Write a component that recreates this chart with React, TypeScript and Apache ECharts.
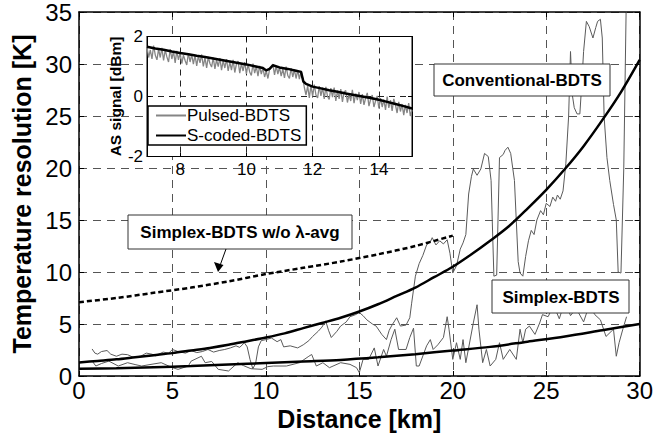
import React, { useEffect, useRef } from "react";
import * as echarts from "echarts";

// ---------- main chart data (Distance km, Temperature resolution K) ----------
const conventionalBDTS: [number, number][] = [
  [0, 1.3], [1, 1.45], [2, 1.6], [3, 1.8], [4, 2.0], [5, 2.2], [6, 2.45], [7, 2.7], [8, 3.0], [9, 3.35],
  [10, 3.7], [11, 4.1], [12, 4.6], [13, 5.1], [14, 5.6], [15, 6.2], [16, 6.9], [17, 7.7], [18, 8.5], [19, 9.5],
  [20, 10.5], [21, 11.7], [22, 13.0], [23, 14.4], [24, 16.1], [25, 17.9], [26, 19.9], [27, 22.1], [28, 24.6],
  [29, 27.3], [30, 30.4],
];

const simplexBDTS: [number, number][] = [
  [0, 0.7], [2, 0.75], [4, 0.85], [6, 0.95], [8, 1.1], [10, 1.25], [12, 1.4], [14, 1.55], [16, 1.8],
  [18, 2.1], [20, 2.45], [22, 2.8], [24, 3.3], [26, 3.8], [28, 4.4], [30, 5.0],
];

const simplexNoAvg: [number, number][] = [
  [0, 7.1], [2, 7.5], [4, 8.0], [6, 8.5], [8, 9.1], [10, 9.8], [12, 10.4], [14, 11.0], [16, 11.7],
  [18, 12.5], [20, 13.5],
];

const measuredConventional: [number, number][] = [
  [0.7, 2.6], [0.85, 2.2], [1.0, 2.1], [1.2, 2.35], [1.5, 2.45], [1.7, 2.1], [2.0, 1.9], [2.3, 2.1], [2.6, 2.05],
  [2.9, 1.8], [3.3, 1.9], [3.6, 2.2], [3.9, 2.1], [4.1, 1.95], [4.5, 2.3], [4.8, 2.2], [5.0, 2.55], [5.3, 2.35],
  [5.7, 2.2], [6.0, 2.45], [6.3, 2.25], [6.6, 2.35], [6.9, 2.55], [7.2, 2.3], [7.5, 2.45], [7.8, 2.55], [8.1, 2.7],
  [8.4, 2.9], [8.6, 2.75], [8.85, 3.2], [9.0, 2.8], [9.15, 1.6], [9.3, 0.7], [9.45, 1.2], [9.6, 2.8], [9.75, 3.4],
  [10.0, 3.5], [10.3, 3.65], [10.6, 3.3], [10.8, 3.5], [10.95, 2.8], [11.3, 2.9], [11.7, 2.7], [12.0, 3.0],
  [12.3, 3.4], [12.5, 3.8], [12.8, 4.3], [13.0, 4.7], [13.2, 5.3], [13.35, 4.4], [13.5, 3.7], [13.8, 4.3],
  [14.0, 4.8], [14.3, 5.2], [14.5, 5.7], [14.8, 5.9], [15.0, 6.1], [15.2, 5.8], [15.4, 5.4], [15.7, 5.0],
  [15.9, 4.8], [16.2, 4.0], [16.45, 3.5], [16.6, 4.4], [16.75, 4.9], [17.0, 5.6], [17.2, 4.8], [17.5, 4.9],
  [17.7, 5.6], [17.8, 7.0], [18.0, 9.6], [18.2, 10.8], [18.4, 11.6], [18.6, 12.6], [18.8, 12.9], [18.9, 13.3],
  [19.1, 12.6], [19.3, 13.0], [19.5, 12.7], [19.7, 13.1], [19.85, 11.8], [20.0, 9.9], [20.2, 10.6], [20.4, 12.2],
  [20.55, 12.8], [20.7, 13.6], [20.85, 17.5], [21.0, 19.2], [21.1, 19.9], [21.3, 19.3], [21.5, 19.9], [21.7, 21.4],
  [21.9, 21.1], [22.05, 18.8], [22.2, 9.6], [22.35, 9.7], [22.5, 21.0], [22.7, 21.3], [22.8, 21.7], [22.95, 22.0],
  [23.1, 21.4], [23.3, 18.8], [23.5, 11.0], [23.6, 9.9], [23.75, 9.6], [23.9, 11.5], [24.05, 13.0], [24.2, 14.0],
  [24.35, 13.6], [24.5, 15.0], [24.7, 15.9], [24.85, 15.5], [25.0, 16.6], [25.2, 16.3], [25.35, 17.2], [25.5, 16.8],
  [25.6, 17.4], [25.75, 17.0], [25.9, 17.8], [26.05, 20.4], [26.2, 25.0], [26.3, 31.2], [26.4, 27.0], [26.5, 25.8],
  [26.65, 25.2], [26.8, 25.2], [26.9, 28.0], [27.0, 31.2], [27.15, 34.1], [27.3, 33.6], [27.5, 32.5], [27.65, 33.5],
  [27.75, 34.1], [27.9, 34.3], [28.0, 32.5], [28.1, 24.9], [28.25, 21.0], [28.4, 18.8], [28.6, 16.5], [28.75, 15.0],
  [28.85, 10.0], [29.0, 9.9], [29.15, 20.0], [29.3, 38.0],
];

const measuredSimplex: [number, number][] = [
  [0.7, 1.45], [0.9, 0.96], [1.2, 1.2], [1.6, 1.43], [2.1, 0.96], [2.6, 1.28], [3.0, 1.1], [3.35, 0.96], [3.8, 1.1],
  [4.4, 1.28], [5.0, 0.8], [5.3, 0.64], [5.85, 0.96], [6.0, 1.43], [6.55, 1.9], [6.75, 1.28], [7.1, 1.4], [7.45, 0.64],
  [8.0, 0.48], [8.5, 1.28], [8.8, 1.0], [9.2, 0.7], [9.8, 0.64], [10.1, 0.9], [10.4, 0.96], [11.1, 0.96], [11.8, 1.28],
  [12.3, 1.9], [12.45, 2.07], [12.7, 0.96], [13.05, 1.28], [13.4, 0.8], [14.0, 1.28], [14.5, 1.12], [14.85, 0.8],
  [15.0, 0.32], [15.2, 1.6], [15.5, 1.6], [15.8, 2.7], [16.0, 0.96], [16.3, 2.55], [16.45, 1.9], [16.7, 3.5],
  [16.9, 4.5], [17.1, 2.55], [17.5, 2.55], [17.7, 3.7], [17.9, 4.6], [18.05, 0.96], [18.2, 0.96], [18.6, 2.9],
  [18.8, 3.5], [18.95, 2.55], [19.2, 3.0], [19.5, 3.7], [19.7, 5.7], [19.8, 4.5], [20.0, 1.6], [20.2, 3.2],
  [20.4, 1.6], [20.55, 3.5], [20.7, 1.28], [21.1, 5.1], [21.3, 6.85], [21.4, 4.5], [21.6, 1.28], [21.8, 2.55],
  [22.0, 0.96], [22.3, 1.6], [22.5, 3.2], [22.7, 1.6], [23.05, 2.55], [23.4, 1.6], [23.6, 4.5], [23.75, 3.2],
  [23.9, 4.5], [24.1, 4.8], [24.4, 4.0], [24.65, 5.1], [24.8, 5.9], [25.1, 5.7], [25.4, 6.8], [25.7, 5.5],
  [26.0, 7.2], [26.3, 5.8], [26.6, 6.5], [27.0, 5.2], [27.3, 6.8], [27.6, 5.9], [27.9, 5.4], [28.2, 3.8],
  [28.6, 4.5], [28.75, 1.9], [28.9, 3.2], [29.1, 4.5], [29.3, 5.7],
];

// ---------- inset data (Distance km, AS signal dBm) ----------
const pulsedKm: number[] = [
  7.0, 7.05, 7.1, 7.15, 7.2, 7.25, 7.3, 7.35, 7.4, 7.45, 7.5, 7.55, 7.6, 7.65, 7.7, 7.75, 7.8, 7.85, 7.9, 7.95,
  8.0, 8.05, 8.1, 8.15, 8.2, 8.25, 8.3, 8.35, 8.4, 8.45, 8.5, 8.55, 8.6, 8.65, 8.7, 8.75, 8.8, 8.85, 8.9, 8.95,
  9.0, 9.05, 9.1, 9.15, 9.2, 9.25, 9.3, 9.35, 9.4, 9.45, 9.5, 9.55, 9.6, 9.65, 9.7, 9.75, 9.8, 9.85, 9.9, 9.95,
  10.0, 10.05, 10.1, 10.15, 10.2, 10.25, 10.3, 10.35, 10.4, 10.45, 10.5, 10.55, 10.6, 10.65, 10.7, 10.75, 10.8, 10.85, 10.9, 10.95,
  11.0, 11.05, 11.1, 11.15, 11.2, 11.25, 11.3, 11.35, 11.4, 11.45, 11.5, 11.55, 11.6, 11.65, 11.7, 11.75, 11.8, 11.85, 11.9, 11.95,
  12.0, 12.05, 12.1, 12.15, 12.2, 12.25, 12.3, 12.35, 12.4, 12.45, 12.5, 12.55, 12.6, 12.65, 12.7, 12.75, 12.8, 12.85, 12.9, 12.95,
  13.0, 13.05, 13.1, 13.15, 13.2, 13.25, 13.3, 13.35, 13.4, 13.45, 13.5, 13.55, 13.6, 13.65, 13.7, 13.75, 13.8, 13.85, 13.9, 13.95,
  14.0, 14.05, 14.1, 14.15, 14.2, 14.25, 14.3, 14.35, 14.4, 14.45, 14.5, 14.55, 14.6, 14.65, 14.7, 14.75, 14.8, 14.85, 14.9, 14.95,
  15.0,
];
const pulsedDBm: number[] = [
  1.65, 1.30, 1.55, 1.25, 1.70, 1.38, 1.22, 1.58, 1.30, 1.62,
  1.20, 1.55, 1.32, 1.15, 1.58, 1.25, 1.50, 1.12, 1.52, 1.22,
  1.45, 1.10, 1.38, 1.20, 1.05, 1.45, 1.15, 1.40, 1.08, 1.38,
  1.02, 1.35, 1.12, 1.40, 1.00, 1.30, 0.95, 1.32, 1.10, 0.98,
  1.30, 0.92, 1.22, 1.00, 1.28, 0.88, 1.20, 0.95, 1.25, 0.85,
  1.15, 0.88, 1.22, 0.80, 1.08, 1.18, 0.78, 1.10, 0.85, 1.15,
  0.75, 1.08, 0.82, 0.70, 1.10, 0.78, 1.00, 0.68, 1.02, 0.75,
  0.95, 0.65, 0.85, 0.60, 0.90, 0.98, 1.08, 0.72, 1.02, 0.75,
  0.98, 0.68, 0.92, 0.62, 1.00, 0.70, 0.60, 0.95, 0.65, 0.90,
  0.60, 0.88, 0.58, 0.85, 0.62, 0.30, 0.05, 0.35, -0.05, 0.38,
  0.00, 0.40, 0.05, -0.05, 0.35, 0.02, 0.30, -0.08, 0.32, 0.00,
  -0.10, 0.28, -0.02, 0.30, -0.15, 0.20, -0.08, 0.25, -0.18, 0.15,
  0.20, -0.20, 0.08, -0.15, 0.22, -0.22, 0.10, -0.12, 0.15, -0.25,
  0.08, -0.28, -0.05, 0.12, -0.32, -0.10, 0.05, -0.35, -0.15, 0.02,
  -0.40, -0.05, -0.35, -0.10, -0.45, 0.00, -0.38, -0.12, -0.48, -0.08,
  -0.28, -0.55, -0.18, -0.50, -0.25, -0.62, -0.28, -0.55, -0.22, -0.65,
  -0.45,
];

const sCodedBDTS: [number, number][] = [
  [7.0, 1.66], [7.25, 1.6], [7.5, 1.56], [7.75, 1.5], [8.0, 1.45], [8.25, 1.41], [8.5, 1.36], [8.75, 1.32],
  [9.0, 1.27], [9.25, 1.22], [9.5, 1.17], [9.75, 1.12], [10.0, 1.07], [10.25, 1.01], [10.5, 0.95], [10.6, 0.87],
  [10.7, 0.92], [10.8, 1.04], [11.0, 0.97], [11.25, 0.92], [11.5, 0.86], [11.65, 0.82], [11.72, 0.5], [11.8, 0.42],
  [12.0, 0.33], [12.25, 0.27], [12.5, 0.21], [12.75, 0.16], [13.0, 0.1], [13.25, 0.05], [13.5, 0.0], [13.75, -0.05],
  [14.0, -0.11], [14.25, -0.18], [14.5, -0.25], [14.75, -0.32], [15.0, -0.4],
];

const FONT = "'Liberation Sans', Arial, Helvetica, sans-serif";

export default function App() {
  const ref = useRef<HTMLDivElement>(null);

  useEffect(() => {
    document.body.style.margin = "0";
    if (!ref.current) return;
    const chart = echarts.init(ref.current, undefined, { renderer: "svg" });

    const mainDash = { type: [8, 6] as number[], color: "#555", width: 1 };
    const insetDash = { type: [6, 5] as number[], color: "#222", width: 1 };
    const pulsed = pulsedKm.map((k, i) => [k, pulsedDBm[i]]);

    chart.setOption({
      animation: false,
      backgroundColor: "#fff",
      grid: [
        { left: 79, right: 16, top: 12, bottom: 63, show: false },
        { left: 147, top: 36.5, width: 265, height: 120, show: true, backgroundColor: "#fff", borderColor: "#000", borderWidth: 1, z: 5 },
      ],
      xAxis: [
        {
          gridIndex: 0, type: "value", min: 0, max: 30, interval: 5,
          axisLine: { show: true, lineStyle: { color: "#000", width: 1.5 } },
          axisTick: { show: true, inside: true, length: 5, lineStyle: { color: "#000" } },
          axisLabel: { color: "#000", fontSize: 24, fontFamily: FONT, margin: 2 },
          splitLine: { show: true, lineStyle: mainDash },
          name: "Distance [km]", nameLocation: "middle", nameGap: 20,
          nameTextStyle: { color: "#000", fontSize: 25, fontWeight: "bold", fontFamily: FONT },
        },
        {
          gridIndex: 0, type: "value", min: 0, max: 30, interval: 5, position: "top",
          axisLine: { show: true, onZero: false, lineStyle: { color: "#000", width: 1.5 } },
          axisTick: { show: true, inside: true, length: 5, lineStyle: { color: "#000" } },
          axisLabel: { show: false }, splitLine: { show: false },
        },
        {
          gridIndex: 1, type: "value", min: 7, max: 15, minInterval: 2, maxInterval: 2, splitNumber: 4, z: 6,
          axisLine: { show: true, onZero: false, lineStyle: { color: "#000", width: 1 } },
          axisTick: { show: true, inside: true, length: 4, lineStyle: { color: "#000" } },
          axisLabel: { color: "#000", fontSize: 17, fontFamily: FONT, margin: 4, showMinLabel: false, showMaxLabel: false },
          splitLine: { show: true, lineStyle: insetDash },
        },
        {
          gridIndex: 1, type: "value", min: 7, max: 15, minInterval: 2, maxInterval: 2, splitNumber: 4, position: "top", z: 6,
          axisLine: { show: true, onZero: false, lineStyle: { color: "#000", width: 1 } },
          axisTick: { show: true, inside: true, length: 4, lineStyle: { color: "#000" } },
          axisLabel: { show: false }, splitLine: { show: false },
        },
      ],
      yAxis: [
        {
          gridIndex: 0, type: "value", min: 0, max: 35, interval: 5,
          axisLine: { show: true, lineStyle: { color: "#000", width: 1.5 } },
          axisTick: { show: true, inside: true, length: 5, lineStyle: { color: "#000" } },
          axisLabel: { color: "#000", fontSize: 24, fontFamily: FONT, margin: 7 },
          splitLine: { show: true, lineStyle: mainDash },
          name: "Temperature resolution [K]", nameLocation: "middle", nameGap: 40,
          nameTextStyle: { color: "#000", fontSize: 25, fontWeight: "bold", fontFamily: FONT },
        },
        {
          gridIndex: 0, type: "value", min: 0, max: 35, interval: 5, position: "right",
          axisLine: { show: true, onZero: false, lineStyle: { color: "#000", width: 1.5 } },
          axisTick: { show: true, inside: true, length: 5, lineStyle: { color: "#000" } },
          axisLabel: { show: false }, splitLine: { show: false },
        },
        {
          gridIndex: 1, type: "value", min: -2, max: 2, interval: 2, z: 6,
          axisLine: { show: true, onZero: false, lineStyle: { color: "#000", width: 1 } },
          axisTick: { show: true, inside: true, length: 4, lineStyle: { color: "#000" } },
          axisLabel: { color: "#000", fontSize: 17, fontFamily: FONT, margin: 4 },
          splitLine: { show: true, lineStyle: insetDash },
          name: "AS signal [dBm]", nameLocation: "middle", nameGap: 23,
          nameTextStyle: { color: "#000", fontSize: 15.5, fontWeight: "bold", fontFamily: FONT },
        },
        {
          gridIndex: 1, type: "value", min: -2, max: 2, interval: 2, position: "right", z: 6,
          axisLine: { show: true, onZero: false, lineStyle: { color: "#000", width: 1 } },
          axisTick: { show: true, inside: true, length: 4, lineStyle: { color: "#000" } },
          axisLabel: { show: false }, splitLine: { show: false },
        },
      ],
      legend: {
        data: [
          { name: "Pulsed-BDTS", icon: "rect", itemStyle: { color: "#858585" } },
          { name: "S-coded-BDTS", icon: "rect", itemStyle: { color: "#000" } },
        ],
        orient: "vertical", left: 148, top: 106, z: 10,
        itemWidth: 30, itemHeight: 2, itemGap: 3,
        padding: [1, 5, 1, 8],
        borderColor: "#000", borderWidth: 1.5, backgroundColor: "#fff",
        textStyle: { color: "#000", fontSize: 17, fontFamily: FONT, padding: [0, 0, 0, -4] },
      },
      series: [
        { type: "line", xAxisIndex: 0, yAxisIndex: 0, data: measuredConventional, symbol: "none", lineStyle: { color: "#5a5a5a", width: 1 }, z: 2 },
        { type: "line", xAxisIndex: 0, yAxisIndex: 0, data: measuredSimplex, symbol: "none", lineStyle: { color: "#5a5a5a", width: 1 }, z: 2 },
        { type: "line", xAxisIndex: 0, yAxisIndex: 0, data: conventionalBDTS, symbol: "none", smooth: 0.3, lineStyle: { color: "#000", width: 2.5 }, z: 3 },
        { type: "line", xAxisIndex: 0, yAxisIndex: 0, data: simplexBDTS, symbol: "none", smooth: 0.3, lineStyle: { color: "#000", width: 2.5 }, z: 3 },
        { type: "line", xAxisIndex: 0, yAxisIndex: 0, data: simplexNoAvg, symbol: "none", smooth: 0.3, lineStyle: { color: "#000", width: 2.5, type: [5, 3] }, z: 3 },
        { name: "Pulsed-BDTS", type: "line", xAxisIndex: 2, yAxisIndex: 2, data: pulsed, symbol: "none", color: "#858585", lineStyle: { color: "#858585", width: 1.3 }, z: 7 },
        { name: "S-coded-BDTS", type: "line", xAxisIndex: 2, yAxisIndex: 2, data: sCodedBDTS, symbol: "none", color: "#000", lineStyle: { color: "#000", width: 2.5 }, z: 8 },
      ],
      graphic: [
        { type: "rect", z: 100, shape: { x: 434, y: 64, width: 176, height: 32 }, style: { fill: "#fff", stroke: "#333", lineWidth: 1 } },
        { type: "text", z: 101, x: 522, y: 80, style: { text: "Conventional-BDTS", font: `bold 17px ${FONT}`, fill: "#000", align: "center", verticalAlign: "middle" } },
        { type: "rect", z: 100, shape: { x: 128, y: 215, width: 224, height: 34 }, style: { fill: "#fff", stroke: "#333", lineWidth: 1 } },
        { type: "text", z: 101, x: 240, y: 232, style: { text: "Simplex-BDTS w/o λ-avg", font: `bold 17px ${FONT}`, fill: "#000", align: "center", verticalAlign: "middle" } },
        { type: "rect", z: 100, shape: { x: 492, y: 280, width: 137, height: 33 }, style: { fill: "#fff", stroke: "#333", lineWidth: 1 } },
        { type: "text", z: 101, x: 561, y: 297, style: { text: "Simplex-BDTS", font: `bold 17px ${FONT}`, fill: "#000", align: "center", verticalAlign: "middle" } },
        { type: "line", z: 100, shape: { x1: 226, y1: 249, x2: 219.5, y2: 267 }, style: { stroke: "#000", lineWidth: 1 } },
        { type: "polygon", z: 100, shape: { points: [[218, 272], [214, 262], [223.5, 265]] }, style: { fill: "#000" } },
      ],
    });

    return () => chart.dispose();
  }, []);

  return <div ref={ref} style={{ position: "absolute", left: 0, top: 0, width: 656, height: 439 }} />;
}
